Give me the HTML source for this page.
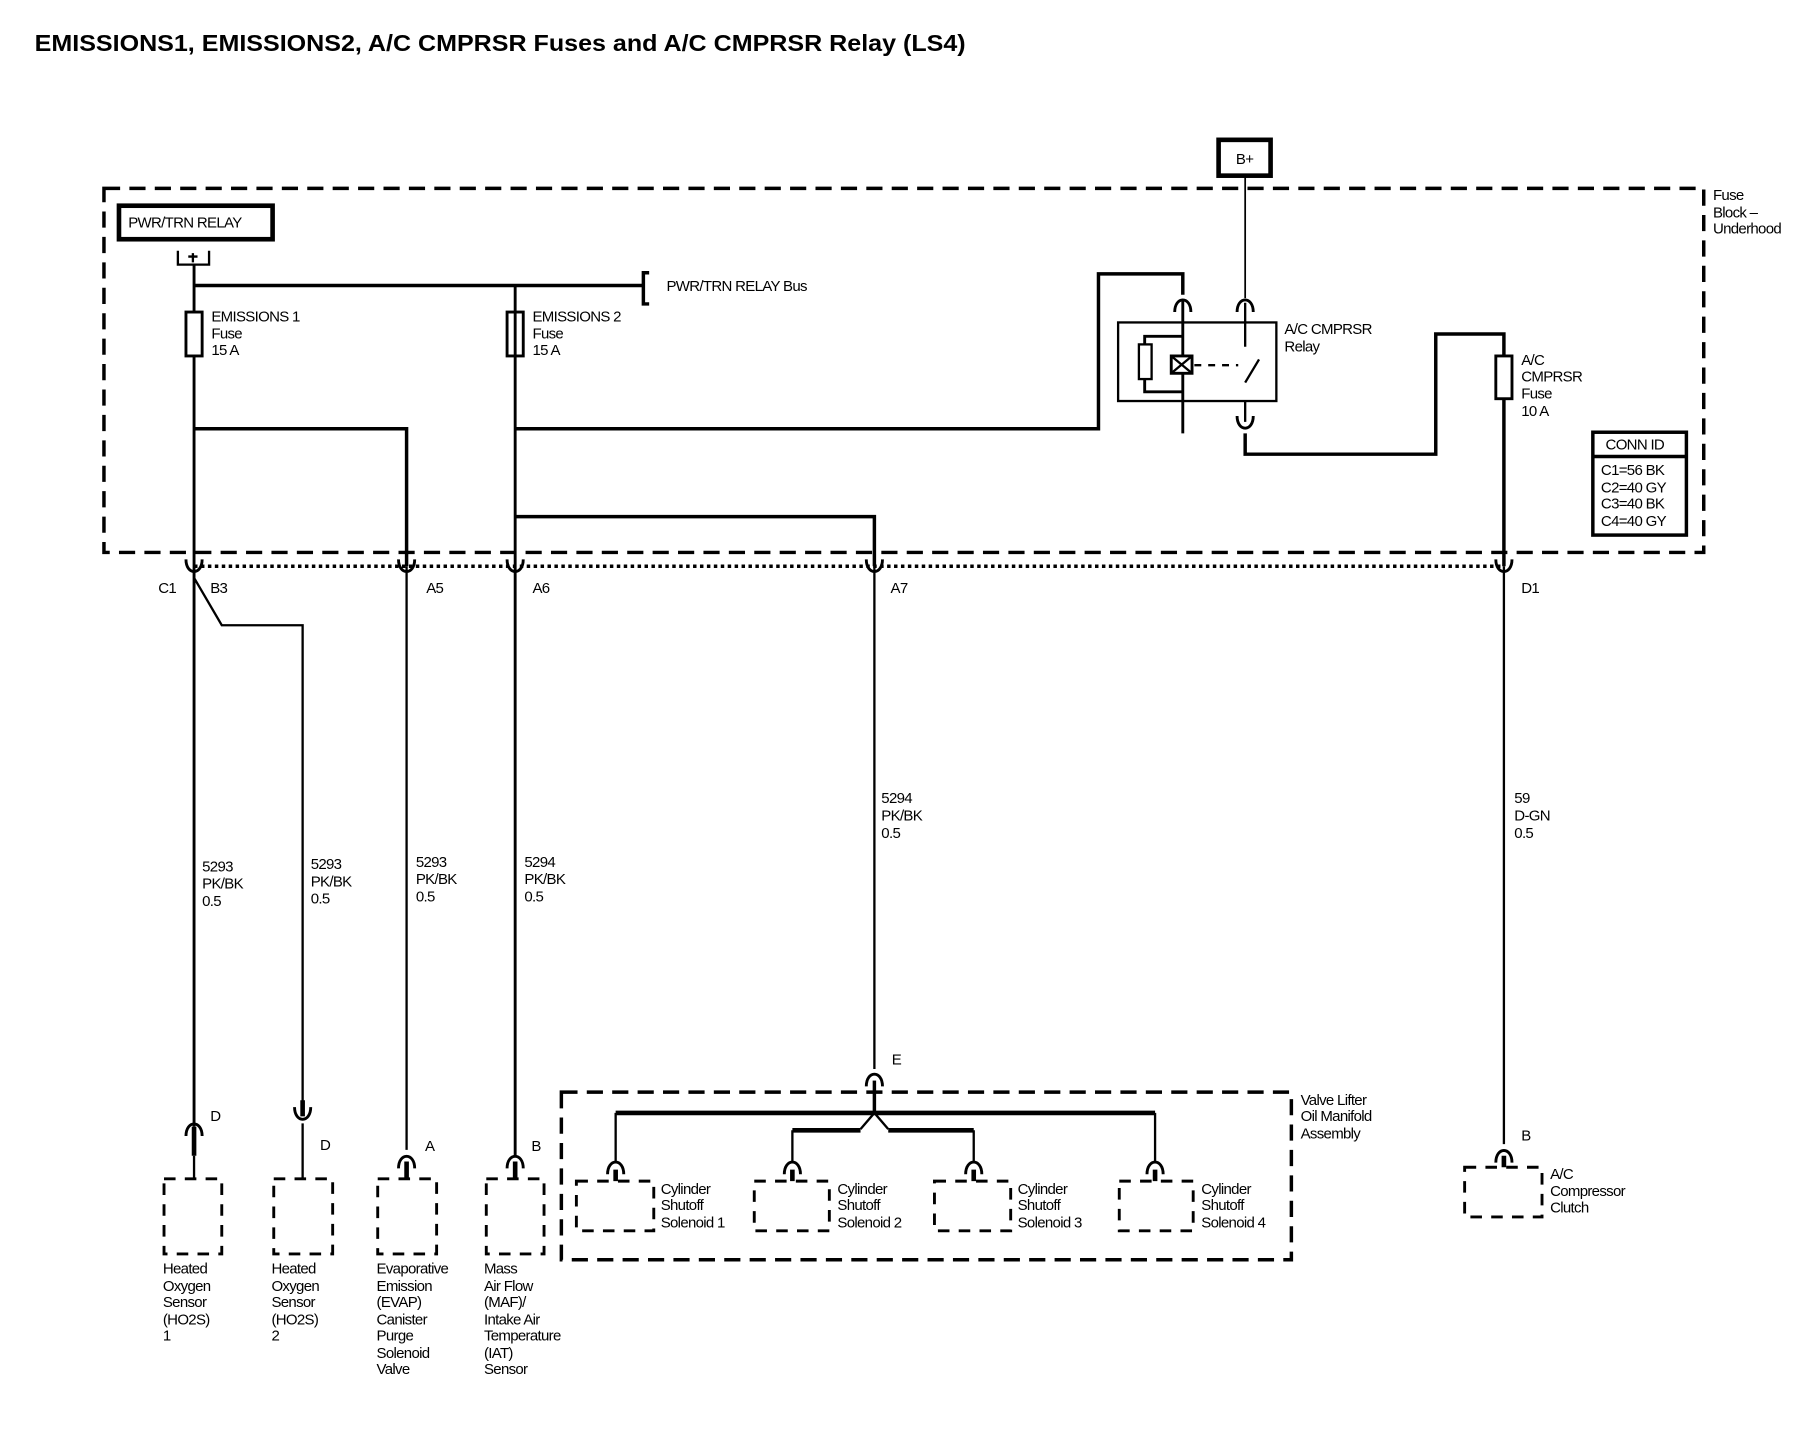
<!DOCTYPE html>
<html><head><style>html,body{margin:0;padding:0;background:#fff}svg{display:block}text{font-family:"Liberation Sans",sans-serif;font-size:13px;fill:#000;letter-spacing:-0.6px}</style></head><body>
<svg width="1810" height="1440" viewBox="0 0 1567 1246" preserveAspectRatio="none" xmlns="http://www.w3.org/2000/svg">
<defs>
<path id="cu" d="M-7,8 C-7,-6 7,-6 7,8" fill="none" stroke="#000" stroke-width="2.5"/>
<path id="cd" d="M-7,-8 C-7,6 7,6 7,-8" fill="none" stroke="#000" stroke-width="2.5"/>
</defs>
<text x="30" y="44" textLength="806" lengthAdjust="spacingAndGlyphs" style="font-size:20px;font-weight:bold;letter-spacing:0">EMISSIONS1, EMISSIONS2, A/C CMPRSR Fuses and A/C CMPRSR Relay (LS4)</text>
<g fill="none" stroke="#000">
<rect x="90" y="163" width="1385" height="315" stroke-width="3" stroke-dasharray="14,8"/>
<rect x="1055" y="121" width="45" height="31" stroke-width="4"/>
<rect x="103" y="178" width="133" height="29" stroke-width="4"/>
<path d="M154,217 v12 h27 v-12 M167,219 v8 M163,222 h8" stroke-width="2"/>
<path d="M168,229 V975" stroke-width="2.5"/>
<path d="M168,247 H557" stroke-width="3"/>
<path d="M562,236 h-5 v27 h5" stroke-width="3"/>
<rect x="161" y="270" width="14" height="38" stroke-width="2.5" fill="#fff"/>
<rect x="439" y="270" width="14" height="38" stroke-width="2.5" fill="#fff"/>
<path d="M446,247 V1000" stroke-width="2.5"/>
<path d="M168,371 H352 V490" stroke-width="3"/>
<path d="M446,371 H951 V237 H1024 V255" stroke-width="3"/>
<path d="M446,447 H757 V490" stroke-width="3"/>
<path d="M1078,152 V258" stroke-width="1.5"/>
<rect x="968" y="279" width="137" height="68" stroke-width="2"/>
<path d="M1024,260 V375" stroke-width="2.5"/>
<rect x="986" y="298" width="11" height="30" stroke-width="2"/>
<path d="M991,298 V291 H1024 M991,328 V339 H1024" stroke-width="2.5"/>
<rect x="1014" y="308" width="18" height="15" stroke-width="2.5" fill="#fff"/>
<path d="M1014,308 L1032,323 M1032,308 L1014,323" stroke-width="2"/>
<path d="M1034,316 H1072" stroke-width="2" stroke-dasharray="6,6"/>
<path d="M1078,262 V300 M1078,331 L1090,311 M1078,347 V365" stroke-width="2"/>
<path d="M1078,375 V393 H1243 V289 H1302 V490" stroke-width="3"/>
<rect x="1295" y="308" width="14" height="37" stroke-width="2.5" fill="#fff"/>
<rect x="1379" y="374" width="81" height="89" stroke-width="3"/>
<path d="M1379,395 H1460" stroke-width="3"/>
<path d="M168,490 H1302" stroke-width="3" stroke-dasharray="3,3"/>
<path d="M168,500 L192,541 H262 V958" stroke-width="2"/>
<path d="M352,490 V995" stroke-width="2"/>
<path d="M757,490 V925" stroke-width="2"/>
<path d="M1302,490 V990" stroke-width="2"/>
<rect x="486" y="945" width="632" height="145" stroke-width="3" stroke-dasharray="14,8"/>
<path d="M757,935 V963" stroke-width="3"/>
<path d="M533,963 H1000" stroke-width="4"/>
<path d="M757,963 L745,977 M757,963 L769,977" stroke-width="2"/>
<path d="M686,978 H745 M769,978 H843" stroke-width="4"/>
<path d="M533,963 V1005 M686,978 V1005 M843,978 V1005 M1000,963 V1005" stroke-width="2"/>
<g stroke-width="2.5" stroke-dasharray="10,8">
<rect x="142" y="1020" width="50" height="65"/><rect x="237" y="1020" width="51" height="65"/><rect x="327" y="1020" width="51" height="65"/><rect x="421" y="1020" width="50" height="65"/>
<rect x="499" y="1022" width="67" height="43"/><rect x="653" y="1022" width="65" height="43"/><rect x="809" y="1022" width="66" height="43"/><rect x="969" y="1022" width="64" height="43"/>
<rect x="1268" y="1010" width="67" height="43"/>
</g>
<path d="M168,975 V1000 M262,952 V966 M352,1005 V1020 M446,1005 V1020 M533,1012 V1022 M686,1012 V1022 M843,1012 V1022 M1000,1012 V1022 M1302,1000 V1010" stroke-width="4"/>
<path d="M168,1000 V1020 M262,972 V1020" stroke-width="2"/>
</g>
<use href="#cu" x="1024" y="262"/><use href="#cu" x="1078" y="262"/><use href="#cd" x="1078" y="368"/>
<use href="#cd" x="168" y="492"/><use href="#cd" x="352" y="492"/><use href="#cd" x="446" y="492"/><use href="#cd" x="757" y="492"/><use href="#cd" x="1302" y="492"/>
<use href="#cu" x="757" y="932"/><use href="#cu" x="168" y="975"/><use href="#cd" x="262" y="966"/><use href="#cu" x="352" y="1003"/><use href="#cu" x="446" y="1003"/>
<use href="#cu" x="533" y="1008"/><use href="#cu" x="686" y="1008"/><use href="#cu" x="843" y="1008"/><use href="#cu" x="1000" y="1008"/><use href="#cu" x="1302" y="998"/>
<text x="1070" y="142">B+</text>
<text x="111" y="197">PWR/TRN RELAY</text>
<text x="577" y="252">PWR/TRN RELAY Bus</text>
<text x="183" y="278">EMISSIONS 1</text><text x="183" y="293">Fuse</text><text x="183" y="307">15 A</text>
<text x="461" y="278">EMISSIONS 2</text><text x="461" y="293">Fuse</text><text x="461" y="307">15 A</text>
<text x="1483" y="173">Fuse</text><text x="1483" y="188">Block –</text><text x="1483" y="202">Underhood</text>
<text x="1112" y="289">A/C CMPRSR</text><text x="1112" y="304">Relay</text>
<text x="1317" y="316">A/C</text><text x="1317" y="330">CMPRSR</text><text x="1317" y="345">Fuse</text><text x="1317" y="360">10 A</text>
<text x="1390" y="389">CONN ID</text><text x="1386" y="411">C1=56 BK</text><text x="1386" y="426">C2=40 GY</text><text x="1386" y="440">C3=40 BK</text><text x="1386" y="455">C4=40 GY</text>
<text x="137" y="513">C1</text><text x="182" y="513">B3</text><text x="369" y="513">A5</text><text x="461" y="513">A6</text><text x="771" y="513">A7</text><text x="1317" y="513">D1</text>
<text x="175" y="754">5293</text><text x="175" y="769">PK/BK</text><text x="175" y="784">0.5</text>
<text x="269" y="752">5293</text><text x="269" y="767">PK/BK</text><text x="269" y="782">0.5</text>
<text x="360" y="750">5293</text><text x="360" y="765">PK/BK</text><text x="360" y="780">0.5</text>
<text x="454" y="750">5294</text><text x="454" y="765">PK/BK</text><text x="454" y="780">0.5</text>
<text x="763" y="695">5294</text><text x="763" y="710">PK/BK</text><text x="763" y="725">0.5</text>
<text x="1311" y="695">59</text><text x="1311" y="710">D-GN</text><text x="1311" y="725">0.5</text>
<text x="182" y="970">D</text><text x="277" y="995">D</text><text x="368" y="996">A</text><text x="460" y="996">B</text><text x="772" y="921">E</text><text x="1317" y="987">B</text>
<text x="1126" y="956">Valve Lifter</text><text x="1126" y="970">Oil Manifold</text><text x="1126" y="985">Assembly</text>
<text x="572" y="1033">Cylinder</text><text x="572" y="1047">Shutoff</text><text x="572" y="1062">Solenoid 1</text>
<text x="725" y="1033">Cylinder</text><text x="725" y="1047">Shutoff</text><text x="725" y="1062">Solenoid 2</text>
<text x="881" y="1033">Cylinder</text><text x="881" y="1047">Shutoff</text><text x="881" y="1062">Solenoid 3</text>
<text x="1040" y="1033">Cylinder</text><text x="1040" y="1047">Shutoff</text><text x="1040" y="1062">Solenoid 4</text>
<text x="1342" y="1020">A/C</text><text x="1342" y="1035">Compressor</text><text x="1342" y="1049">Clutch</text>
<g>
<text x="141" y="1102">Heated</text><text x="141" y="1117">Oxygen</text><text x="141" y="1131">Sensor</text><text x="141" y="1146">(HO2S)</text><text x="141" y="1160">1</text>
<text x="235" y="1102">Heated</text><text x="235" y="1117">Oxygen</text><text x="235" y="1131">Sensor</text><text x="235" y="1146">(HO2S)</text><text x="235" y="1160">2</text>
<text x="326" y="1102">Evaporative</text><text x="326" y="1117">Emission</text><text x="326" y="1131">(EVAP)</text><text x="326" y="1146">Canister</text><text x="326" y="1160">Purge</text><text x="326" y="1175">Solenoid</text><text x="326" y="1189">Valve</text>
<text x="419" y="1102">Mass</text><text x="419" y="1117">Air Flow</text><text x="419" y="1131">(MAF)/</text><text x="419" y="1146">Intake Air</text><text x="419" y="1160">Temperature</text><text x="419" y="1175">(IAT)</text><text x="419" y="1189">Sensor</text>
</g>
</svg>
</body></html>
